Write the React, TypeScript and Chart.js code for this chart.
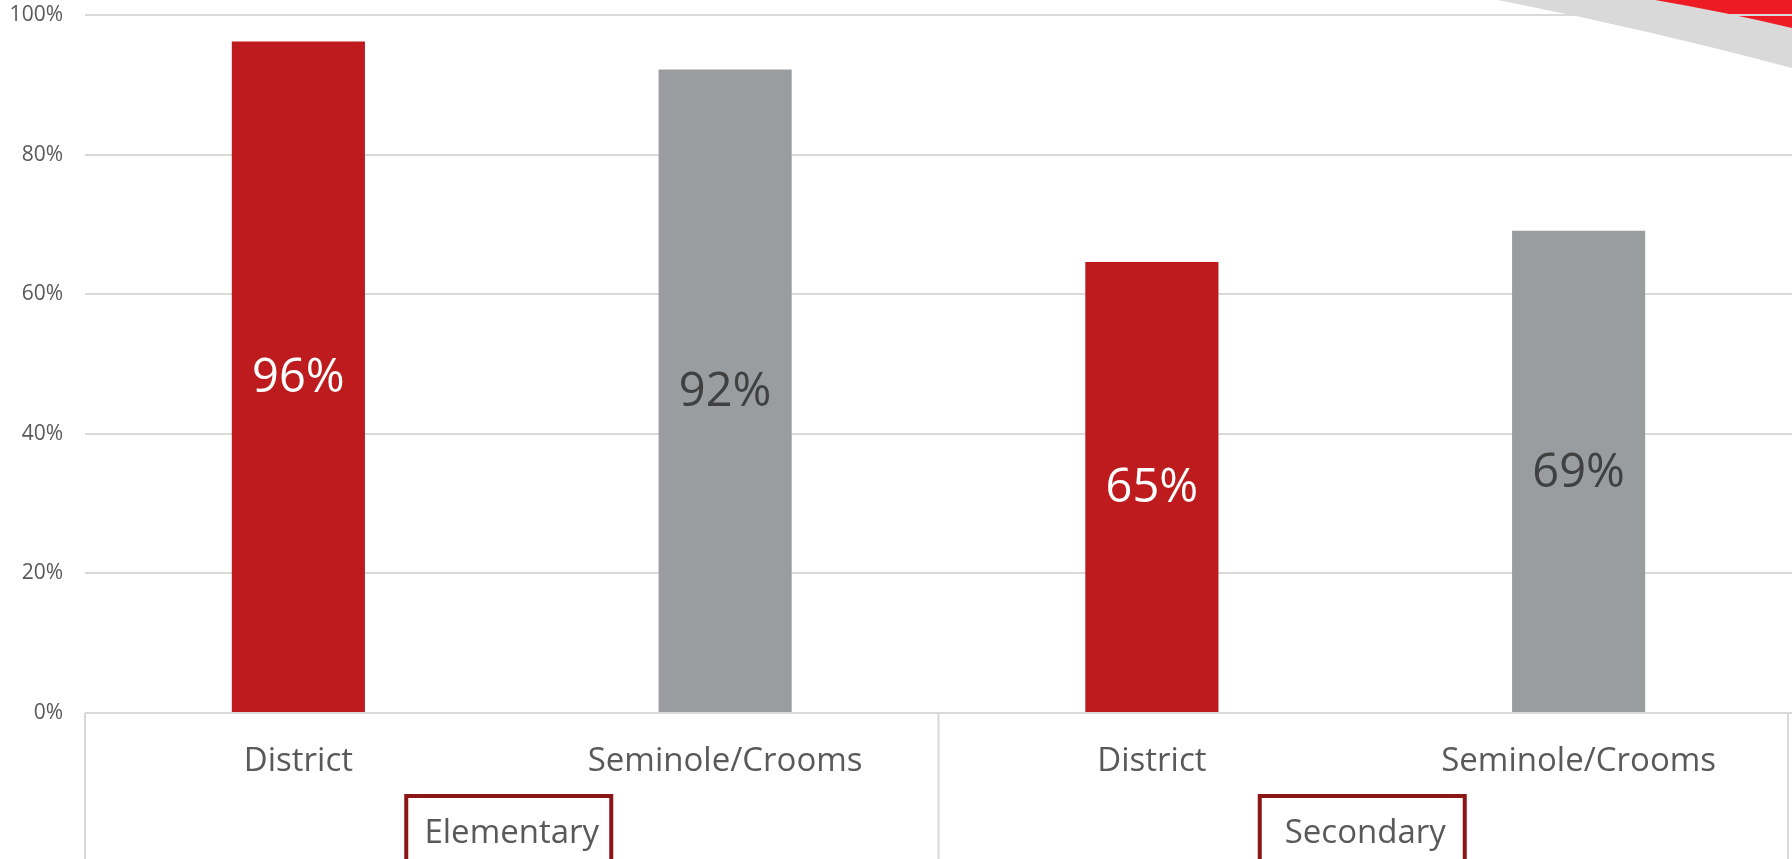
import React, { useEffect, useRef } from 'react';
import { Chart, registerables } from 'chart.js';

Chart.register(...registerables);

const categories = ['District', 'Seminole/Crooms', 'District', 'Seminole/Crooms'];
const groups = ['Elementary', 'Secondary'];
const groupStart = [0, 2];
const groupEnd = [1, 3];
const values = [96.2, 92.2, 64.6, 69.1];
const barColors = ['#BD1B1E', '#999D9F', '#BD1B1E', '#999D9F'];
const labelColors = ['#FFFFFF', '#404040', '#FFFFFF', '#404040'];
const yMin = 0;
const yMax = 100;
const yStep = 20;

const FONT = '"Open Sans", "Noto Sans", sans-serif';

const decoPlugin = {
  id: 'deco',
  beforeDraw(chart: any) {
    const ctx = chart.ctx;
    const W = chart.width;
    ctx.save();
    ctx.fillStyle = '#D9D9D9';
    ctx.beginPath();
    ctx.moveTo(1498, 0);
    ctx.quadraticCurveTo(1650, 30, W, 68);
    ctx.lineTo(W, 0);
    ctx.closePath();
    ctx.fill();
    ctx.fillStyle = '#ED1C24';
    ctx.beginPath();
    ctx.moveTo(1655, 0);
    ctx.quadraticCurveTo(1725, 12, W, 28);
    ctx.lineTo(W, 0);
    ctx.closePath();
    ctx.fill();
    ctx.restore();
  },
};

const overlayPlugin = {
  id: 'overlay',
  afterDraw(chart: any) {
    const ctx = chart.ctx;
    const x = chart.scales.x;
    const area = chart.chartArea;
    const H = chart.height;
    ctx.save();
    // data labels
    const meta = chart.getDatasetMeta(0);
    ctx.font = `47px ${FONT}`;
    ctx.textAlign = 'center';
    ctx.textBaseline = 'middle';
    meta.data.forEach((bar: any, i: number) => {
      const yc = (bar.y + bar.base) / 2 + 2;
      ctx.fillStyle = labelColors[i];
      ctx.fillText(`${Math.round(values[i])}%`, bar.x, yc);
    });
    // table lines
    ctx.strokeStyle = '#D9D9D9';
    ctx.lineWidth = 2;
    const seps = [area.left, (x.getPixelForValue(1) + x.getPixelForValue(2)) / 2, area.right - 4];
    seps.forEach((sx) => {
      ctx.beginPath();
      ctx.moveTo(sx, area.bottom);
      ctx.lineTo(sx, H);
      ctx.stroke();
    });
    // group labels
    groups.forEach((g, gi) => {
      const cx = (x.getPixelForValue(groupStart[gi]) + x.getPixelForValue(groupEnd[gi])) / 2;
      const bw = 205;
      ctx.fillStyle = '#FFFFFF';
      ctx.fillRect(cx - bw / 2 - 3, 796, bw, 80);
      ctx.strokeStyle = '#8C1515';
      ctx.lineWidth = 4;
      ctx.strokeRect(cx - bw / 2 - 3, 796, bw, 80);
      ctx.fillStyle = '#595959';
      ctx.font = `33px ${FONT}`;
      ctx.textAlign = 'center';
      ctx.textBaseline = 'middle';
      ctx.fillText(g, cx, 834);
    });
    ctx.restore();
  },
};

export default function App() {
  const ref = useRef<HTMLCanvasElement>(null);
  useEffect(() => {
    document.body.style.margin = '0';
    document.body.style.overflow = 'hidden';
    const chart = new Chart(ref.current as HTMLCanvasElement, {
      type: 'bar',
      data: {
        labels: categories,
        datasets: [
          {
            data: values,
            backgroundColor: barColors,
            borderWidth: 0,
            categoryPercentage: 1,
            barPercentage: 0.312,
          },
        ],
      },
      options: {
        animation: false,
        responsive: true,
        maintainAspectRatio: false,
        layout: { padding: { top: 15, right: 0, left: 0, bottom: 0 } },
        plugins: { legend: { display: false }, tooltip: { enabled: false } },
        scales: {
          x: {
            grid: { display: false, drawTicks: false },
            border: { display: false },
            ticks: {
              font: { family: FONT, size: 33 },
              color: '#595959',
              padding: 29,
              maxRotation: 0,
              autoSkip: false,
            },
            afterFit: (s: any) => {
              s.height = 146;
            },
          },
          y: {
            min: yMin,
            max: yMax,
            grid: { color: '#D9D9D9', lineWidth: 2, drawTicks: false },
            border: { display: false },
            ticks: {
              stepSize: yStep,
              font: { family: FONT, size: 21 },
              color: '#595959',
              padding: 22,
              callback: (v: any) => `${v}%`,
            },
            afterFit: (s: any) => {
              s.width = 85;
              s.paddingTop = 8;
              s.paddingBottom = 8;
            },
          },
        },
      },
      plugins: [decoPlugin, overlayPlugin],
    } as any);
    return () => chart.destroy();
  }, []);
  return (
    <div style={{ position: 'absolute', left: 0, top: 0, width: 1792, height: 859, overflow: 'hidden', background: '#fff' }}>
      <canvas ref={ref} />
    </div>
  );
}
